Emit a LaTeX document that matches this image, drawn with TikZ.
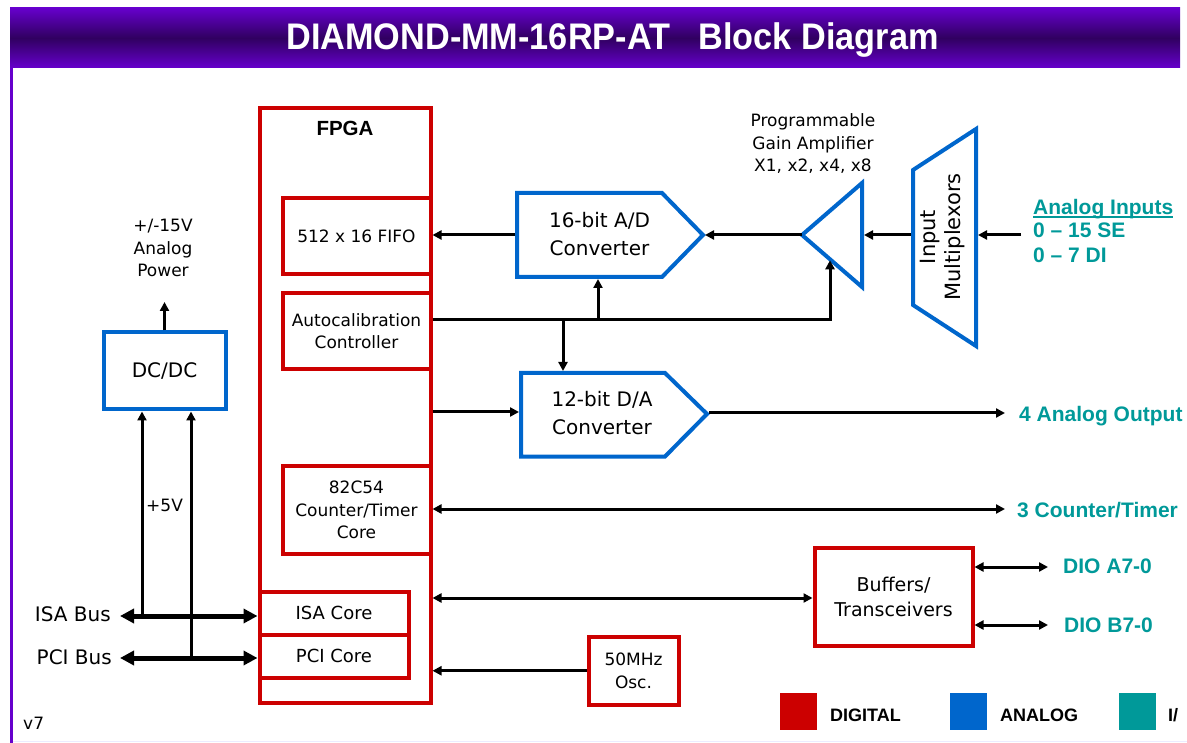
\documentclass[tikz,border=0pt]{standalone}
\usepackage{fontspec}
\setmainfont{DejaVu Sans}
\newfontfamily\labfont{Liberation Sans}
\usetikzlibrary{arrows.meta,calc}
\definecolor{digred}{RGB}{204,0,0}
\definecolor{anablue}{RGB}{0,102,204}
\definecolor{ioteal}{RGB}{0,153,153}
\definecolor{ttlpurple}{RGB}{102,0,204}
\definecolor{ttldark}{RGB}{48,0,96}
\definecolor{lavender}{RGB}{236,236,255}
\begin{document}
\begin{tikzpicture}[x=1pt,y=-1pt,
  dig/.style={draw=digred,line width=4pt},
  ana/.style={draw=anablue,line width=4pt},
  lbl/.style={font=\fontsize{17}{22.5}\selectfont,align=center},
  big/.style={font=\fontsize{20}{28}\selectfont,align=center},
  io/.style={font=\labfont\bfseries\fontsize{21}{24}\selectfont,text=ioteal,anchor=base west,inner sep=0pt},
  leg/.style={font=\labfont\bfseries\fontsize{18}{22}\selectfont,anchor=base west,inner sep=0pt},
  conn/.style={line width=3pt,-{Triangle[length=9pt,width=9pt]}},
  both/.style={line width=3pt,{Triangle[length=9pt,width=9pt]}-{Triangle[length=9pt,width=9pt]}},
  bus/.style={line width=5pt,{Triangle[length=14pt,width=14pt]}-{Triangle[length=14pt,width=14pt]}}]
\useasboundingbox (0,0) rectangle (1187,743);
\clip (0,0) rectangle (1187,743);
\shade[top color=ttlpurple,bottom color=ttlpurple,middle color=ttldark] (10,8) rectangle (1180,68);
\node[text=white,anchor=base,font=\labfont\bfseries\fontsize{37}{44}\selectfont] (title) at (612.5,50)
  {\scalebox{0.926}[1]{DIAMOND-MM-16RP-AT\hspace{0.834em}Block Diagram}};
\draw[ttlpurple,line width=3pt] (11.5,68) -- (11.5,743);
\draw[lavender,line width=1.5pt] (13,741.5) -- (1187,741.5);

\node[dig,minimum width=171pt,minimum height=594.5pt] (fpga) at (345,405.75) {};
\node[anchor=base,font=\labfont\bfseries\fontsize{20.5}{24}\selectfont] (fpgalbl) at (345,136) {FPGA};
\node[dig,lbl,minimum width=148pt,minimum height=76pt] (fifo) at (356.5,236) {512 x 16 FIFO};
\node[dig,lbl,minimum width=148pt,minimum height=76pt] (autocal) at (356.5,331) {Autocalibration\\Controller};
\node[dig,lbl,minimum width=148pt,minimum height=88.5pt] (ctr) at (356.5,510) {82C54\\Counter/Timer\\Core};
\node[dig,lbl,font=\fontsize{18}{22}\selectfont,minimum width=149pt,minimum height=43pt] (isacore) at (334,613) {ISA Core};
\node[dig,lbl,font=\fontsize{18}{22}\selectfont,minimum width=149pt,minimum height=43pt] (pcicore) at (334,656) {PCI Core};
\node[dig,lbl,minimum width=90pt,minimum height=68.5pt] (osc) at (633.5,670.75) {50MHz\\Osc.};
\node[dig,lbl,font=\fontsize{19}{25}\selectfont,minimum width=158pt,minimum height=98pt] (buf) at (893.5,596.5) {Buffers/\\Transceivers};

\node[ana,big,minimum width=122pt,minimum height=77pt] (dcdc) at (164.5,371) {DC/DC};
\node[lbl] (pwr) at (163,248) {+/-15V\\Analog\\Power};
\coordinate (pwrarr) at (164.5,302);

\draw[ana] (517,193) -- (662,193) -- (703,235) -- (662,277) -- (517,277) -- cycle;
\node[big] (ad) at (599.5,234) {16-bit A/D\\Converter};
\coordinate (adL) at (515,235);
\coordinate (adT) at (705,235);
\coordinate (adB) at (598,279);

\draw[ana] (521,373) -- (665,373) -- (707,414) -- (665,456.5) -- (521,456.5) -- cycle;
\node[big] (da) at (602,413.5) {12-bit D/A\\Converter};
\coordinate (daL) at (519,412);
\coordinate (daTip) at (709,413);
\coordinate (daT) at (563,371);

\draw[ana,line join=miter] (802,235) -- (862,183) -- (862,287) -- cycle;
\coordinate (pgatip) at (802,235);
\coordinate (pgabot) at (862,287);
\coordinate (pgaR) at (864,235);
\node[lbl] (pgalbl) at (813,144) {Programmable\\Gain Amplifier\\X1, x2, x4, x8};

\draw[ana] (913,170) -- (976,129) -- (976,346) -- (913,305) -- cycle;
\node[rotate=90,font=\fontsize{21}{25}\selectfont,align=center] (mux) at (943,237) {Input\\Multiplexors};
\coordinate (muxL) at (911,235);
\coordinate (muxR) at (978,235);

\node[io] (ain) at (1033,215) {Analog Inputs};
\draw[ioteal,line width=1.5pt] ($(ain.base west)+(0,2)$) -- ($(ain.base east)+(0,2)$);
\node[io] (ain1) at (1033,238) {0 – 15 SE};
\node[io] (ain2) at (1033,263) {0 – 7 DI};
\coordinate (ainarr) at (1021,235);

\draw[conn] (ainarr) -- (muxR);
\draw[conn] (muxL) -- (pgaR);
\draw[conn] (pgatip) -- (adT);
\draw[conn] (adL) -- (fifo.east |- adL);

\coordinate (calrow) at (0,320);
\coordinate (jad) at (adB |- calrow);
\coordinate (jda) at (daT |- calrow);
\draw[conn,shorten >=1pt] (autocal.east |- calrow) -| ($(pgatip)!0.467!(pgabot)$);
\draw[conn] (jad) -- (adB);
\draw[conn] (jda) -- (daT);

\draw[conn] (fpga.east |- daL) -- (daL);
\coordinate (aoutend) at (1005,413);
\draw[conn] (daTip) -- (aoutend);
\node[io] (aout) at (1019,422) {4 Analog Output};

\coordinate (ctrend) at (1005,509);
\draw[both] (ctr.east |- ctrend) -- (ctrend);
\node[io] (ctrout) at (1017,517) {3 Counter/Timer};

\coordinate (bufrow) at (0,598);
\draw[both] (fpga.east |- bufrow) -- (buf.west |- bufrow);
\coordinate (dioa) at (1048,567);
\coordinate (diob) at (1048,625);
\draw[both] (buf.east |- dioa) -- (dioa);
\draw[both] (buf.east |- diob) -- (diob);
\node[io] (dioalbl) at (1063,573) {DIO A7-0};
\node[io] (dioblbl) at (1064,632) {DIO B7-0};

\draw[conn] (osc.west) -- (fpga.east |- osc.west);

\coordinate (isaend) at (120,616);
\coordinate (pciend) at (120,658);
\draw[bus] (isaend) -- (isacore.west |- isaend);
\draw[bus] (pciend) -- (pcicore.west |- pciend);
\node[anchor=east,inner sep=0pt,font=\fontsize{20}{24}\selectfont] (isalbl) at (111,614) {ISA Bus};
\node[anchor=east,inner sep=0pt,font=\fontsize{20}{24}\selectfont] (pcilbl) at (112,657) {PCI Bus};
\coordinate (v1) at (142,616);
\coordinate (v2) at (191,658);
\draw[conn] (v1) -- (v1 |- dcdc.south);
\draw[conn] (v2) -- (v2 |- dcdc.south);
\node[lbl,anchor=west,inner sep=0pt] (fivev) at (146,505) {+5V};
\draw[conn] (dcdc.north) -- (pwrarr);

\node[fill=digred,minimum size=37pt,inner sep=0pt] (legdig) at (798,711) {};
\node[fill=anablue,minimum size=37pt,inner sep=0pt] (legana) at (968,711) {};
\node[fill=ioteal,minimum size=37pt,inner sep=0pt] (legio) at (1137.5,711) {};
\node[leg] (legdiglbl) at (830,721) {DIGITAL};
\node[leg] (leganalbl) at (1000,721) {ANALOG};
\node[leg] (legiolbl) at (1168,721) {I/};

\node[lbl,anchor=west,inner sep=0pt] (ver) at (23,723) {v7};
\end{tikzpicture}
\end{document}
